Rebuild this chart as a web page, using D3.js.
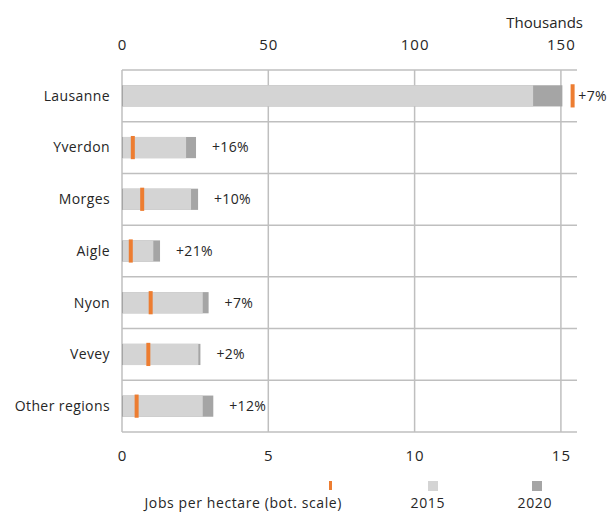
<!DOCTYPE html>
<html>
<head>
<meta charset="utf-8">
<script src="https://cdn.jsdelivr.net/npm/d3@7"></script>
<style>
  body { margin: 0; background: #fff; }
  text { font-family: "Open Sans", sans-serif; fill: #262626; }
</style>
</head>
<body>
<div id="chart"></div>
<script>
// données
const regions = ["Lausanne", "Yverdon", "Morges", "Aigle", "Nyon", "Vevey", "Other regions"];
const jobs2015 = [140.5, 21.9, 23.6, 10.7, 27.6, 26.1, 27.6];   // milliers
const jobs2020 = [150.5, 25.3, 26.0, 13.0, 29.6, 26.8, 31.2];   // milliers
const jobsPerHa = [15.4, 0.37, 0.69, 0.30, 0.98, 0.90, 0.50];  // échelle du bas
const growth = ["+7%", "+16%", "+10%", "+21%", "+7%", "+2%", "+12%"];
const topTicks = [0, 50, 100, 150];
const botTicks = [0, 5, 10, 15];

const width = 607, height = 516;
const margin = { top: 70, right: 30, bottom: 84, left: 122 };

const svg = d3.select("#chart").append("svg")
  .attr("width", width)
  .attr("height", height);

// échelles
const x = d3.scaleLinear().domain([0, 155.5]).range([margin.left, width - margin.right]);
const xBot = d3.scaleLinear().domain([0, 15.55]).range([margin.left, width - margin.right]);
const y = d3.scaleBand().domain(regions).range([margin.top, height - margin.bottom]);

const grid = "#bfbfbf";

// lignes horizontales entre les régions
svg.append("g").selectAll("line")
  .data(d3.range(regions.length + 1))
  .join("line")
  .attr("x1", margin.left).attr("x2", width - margin.right)
  .attr("y1", i => margin.top + i * y.step())
  .attr("y2", i => margin.top + i * y.step())
  .attr("stroke", grid).attr("stroke-width", 1.5);

// lignes verticales
svg.append("g").selectAll("line")
  .data(topTicks)
  .join("line")
  .attr("x1", d => x(d)).attr("x2", d => x(d))
  .attr("y1", margin.top).attr("y2", height - margin.bottom)
  .attr("stroke", grid).attr("stroke-width", 1.5);

// axe du haut
const topAxis = svg.append("g")
  .attr("transform", `translate(0, ${margin.top - 20})`)
  .call(d3.axisTop(x).tickValues(topTicks).tickSize(0).tickPadding(0));
topAxis.select(".domain").remove();
topAxis.selectAll("text")
  .style("font-size", "15px").style("letter-spacing", "1px")
  .attr("font-family", null);

svg.append("text")
  .attr("x", 583).attr("y", 28)
  .attr("text-anchor", "end")
  .style("font-size", "15px")
  .text("Thousands");

// axe du bas
const botAxis = svg.append("g")
  .attr("transform", `translate(0, ${height - margin.bottom + 18})`)
  .call(d3.axisBottom(xBot).tickValues(botTicks).tickSize(0).tickPadding(0));
botAxis.select(".domain").remove();
botAxis.selectAll("text")
  .style("font-size", "15px").style("letter-spacing", "1px")
  .attr("font-family", null);

// noms des régions
svg.append("g").selectAll("text")
  .data(regions)
  .join("text")
  .attr("x", margin.left - 12)
  .attr("y", d => y(d) + y.bandwidth() / 2)
  .attr("dy", "0.35em")
  .attr("text-anchor", "end")
  .style("font-size", "14px")
  .style("letter-spacing", "0.4px")
  .text(d => d);

const barH = y.bandwidth() * 0.41;

// barres 2020 (derrière) puis 2015
svg.append("g").selectAll("rect")
  .data(regions)
  .join("rect")
  .attr("x", x(0))
  .attr("y", d => y(d) + (y.bandwidth() - barH) / 2)
  .attr("width", (d, i) => x(jobs2020[i]) - x(0))
  .attr("height", barH)
  .attr("fill", "#a5a5a5");

svg.append("g").selectAll("rect")
  .data(regions)
  .join("rect")
  .attr("x", x(0) + 1)
  .attr("y", d => y(d) + (y.bandwidth() - barH) / 2)
  .attr("width", (d, i) => x(jobs2015[i]) - x(0) - 1)
  .attr("height", barH)
  .attr("fill", "#d4d4d4");

// emplois par hectare
svg.append("g").selectAll("rect")
  .data(regions)
  .join("rect")
  .attr("x", (d, i) => xBot(jobsPerHa[i]) - 2)
  .attr("y", d => y(d) + (y.bandwidth() - barH) / 2 - 1)
  .attr("width", 4)
  .attr("height", barH + 2)
  .attr("fill", "#ed7d31");

// croissance
svg.append("g").selectAll("text")
  .data(regions)
  .join("text")
  .attr("x", (d, i) => x(jobs2020[i]) + 16)
  .attr("y", d => y(d) + y.bandwidth() / 2)
  .attr("dy", "0.35em")
  .style("font-size", "14px")
  .style("letter-spacing", "0.3px")
  .text((d, i) => growth[i]);

// légende
const legend = svg.append("g");
legend.append("rect").attr("x", 329).attr("y", 481).attr("width", 3).attr("height", 9).attr("fill", "#ed7d31");
legend.append("rect").attr("x", 428).attr("y", 481).attr("width", 10).attr("height", 10).attr("fill", "#d4d4d4");
legend.append("rect").attr("x", 532).attr("y", 481).attr("width", 10).attr("height", 10).attr("fill", "#a5a5a5");
[["Jobs per hectare (bot. scale)", 342], ["2015", 445], ["2020", 552]].forEach(([t, lx]) => {
  legend.append("text")
    .attr("x", lx).attr("y", 508)
    .attr("text-anchor", "end")
    .style("font-size", "14px")
    .style("letter-spacing", "0.6px")
    .text(t);
});
</script>
</body>
</html>
